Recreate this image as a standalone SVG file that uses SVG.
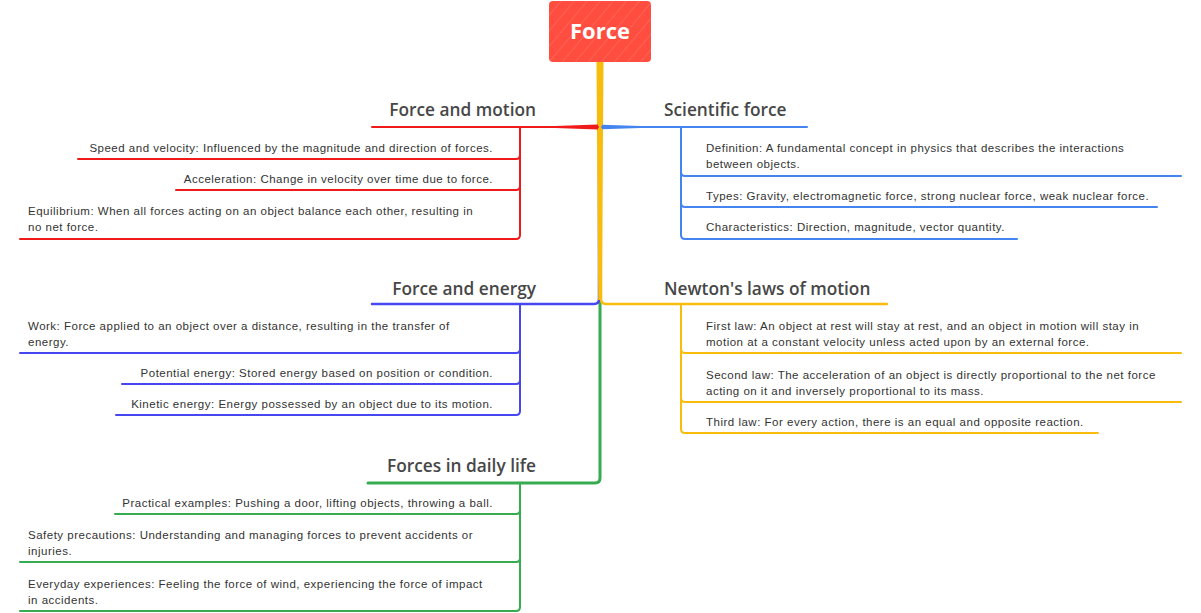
<svg xmlns="http://www.w3.org/2000/svg" width="1201" height="613" viewBox="0 0 1201 613">
<defs>
<pattern id="hatch" width="10" height="10" patternUnits="userSpaceOnUse" patternTransform="rotate(40)">
<line x1="0" y1="0" x2="0" y2="10" stroke="#ffffff" stroke-opacity="0.3" stroke-width="0.8"/>
</pattern>
<style>
.t{font-family:"Open Sans","Liberation Sans",sans-serif;font-weight:600;font-size:17.3px;fill:#474747}
.c{font-family:"Liberation Sans",Arial,sans-serif;font-size:11.5px;fill:#333;letter-spacing:0.5px}
.e{text-anchor:end}
.ln{fill:none;stroke-width:2;stroke-linecap:round;stroke-linejoin:round}
.red{stroke:#f01a1a}.sci{stroke:#4384f0}.en{stroke:#4747f2}.ny{stroke:#f8bd0c}.gr{stroke:#36ab4f}
</style>
</defs>
<rect width="1201" height="613" fill="#ffffff"/>
<g id="connectors">
<path class="ln gr" style="stroke-width:3" d="M600,62 V478 Q600,483 595,483 H368"/>
<path class="ln en" style="stroke-width:2.5" d="M599,120 V299 Q599,304 594,304 H372"/>
<path class="ln ny" style="stroke-width:2.5" d="M601,120 V299 Q601,304 606,304 H887"/>
<polygon fill="#f8bd0c" points="596.5,62 603.5,62 601.8,300 598.2,300"/>
<path class="ln red" d="M598,127 H372"/>
<polygon fill="#f01a1a" points="598,124.6 598,129.4 555,127.9 555,126.1"/>
<path class="ln sci" d="M602,127 H807"/>
<polygon fill="#4384f0" points="602,124.8 602,129.2 640,127.9 640,126.1"/>
<path class="ln red" d="M520,127 V155 Q520,159 516,159 H78"/>
<path class="ln red" d="M520,127 V186 Q520,190 516,190 H176"/>
<path class="ln red" d="M520,127 V235 Q520,239 516,239 H20"/>
<path class="ln sci" d="M681,127 V172 Q681,176 685,176 H1181"/>
<path class="ln sci" d="M681,127 V203 Q681,207 685,207 H1157"/>
<path class="ln sci" d="M681,127 V235 Q681,239 685,239 H1017"/>
<path class="ln en" d="M520,304 V349 Q520,353 516,353 H20"/>
<path class="ln en" d="M520,304 V380 Q520,384 516,384 H122"/>
<path class="ln en" d="M520,304 V411 Q520,415 516,415 H116"/>
<path class="ln ny" d="M681,304 V349 Q681,353 685,353 H1181"/>
<path class="ln ny" d="M681,304 V398 Q681,402 685,402 H1181"/>
<path class="ln ny" d="M681,304 V429 Q681,433 685,433 H1098"/>
<path class="ln gr" d="M520,483 V510 Q520,514 516,514 H115"/>
<path class="ln gr" d="M520,483 V558 Q520,562 516,562 H20"/>
<path class="ln gr" d="M520,483 V607 Q520,611 516,611 H20"/>
</g>
<g id="root">
<rect x="549" y="1" width="102" height="61" rx="4" fill="#ff4d3f"/>
<rect x="549" y="1" width="102" height="61" rx="4" fill="url(#hatch)"/>
<text x="600" y="38.5" text-anchor="middle" style="font-family:'Open Sans','Liberation Sans',sans-serif;font-weight:700;font-size:22px;fill:#ffffff">Force</text>
</g>
<g id="force-and-motion">
<text class="t e" x="536" y="116">Force and motion</text>
<text class="c e" x="493" y="152">Speed and velocity: Influenced by the magnitude and direction of forces.</text>
<text class="c e" x="493" y="183">Acceleration: Change in velocity over time due to force.</text>
<text class="c" x="28" y="215">Equilibrium: When all forces acting on an object balance each other, resulting in</text>
<text class="c" x="28" y="231">no net force.</text>
</g>
<g id="scientific-force">
<text class="t" x="664" y="116">Scientific force</text>
<text class="c" x="706" y="152">Definition: A fundamental concept in physics that describes the interactions</text>
<text class="c" x="706" y="168">between objects.</text>
<text class="c" x="706" y="200">Types: Gravity, electromagnetic force, strong nuclear force, weak nuclear force.</text>
<text class="c" x="706" y="231">Characteristics: Direction, magnitude, vector quantity.</text>
</g>
<g id="force-and-energy">
<text class="t e" x="536" y="295">Force and energy</text>
<text class="c" x="28" y="330">Work: Force applied to an object over a distance, resulting in the transfer of</text>
<text class="c" x="28" y="346">energy.</text>
<text class="c e" x="493" y="377">Potential energy: Stored energy based on position or condition.</text>
<text class="c e" x="493" y="408">Kinetic energy: Energy possessed by an object due to its motion.</text>
</g>
<g id="newtons-laws">
<text class="t" x="664" y="295">Newton's laws of motion</text>
<text class="c" x="706" y="330">First law: An object at rest will stay at rest, and an object in motion will stay in</text>
<text class="c" x="706" y="346">motion at a constant velocity unless acted upon by an external force.</text>
<text class="c" x="706" y="379">Second law: The acceleration of an object is directly proportional to the net force</text>
<text class="c" x="706" y="395">acting on it and inversely proportional to its mass.</text>
<text class="c" x="706" y="426">Third law: For every action, there is an equal and opposite reaction.</text>
</g>
<g id="forces-in-daily-life">
<text class="t e" x="536" y="472">Forces in daily life</text>
<text class="c e" x="493" y="507">Practical examples: Pushing a door, lifting objects, throwing a ball.</text>
<text class="c" x="28" y="539">Safety precautions: Understanding and managing forces to prevent accidents or</text>
<text class="c" x="28" y="555">injuries.</text>
<text class="c" x="28" y="588">Everyday experiences: Feeling the force of wind, experiencing the force of impact</text>
<text class="c" x="28" y="604">in accidents.</text>
</g>
</svg>
